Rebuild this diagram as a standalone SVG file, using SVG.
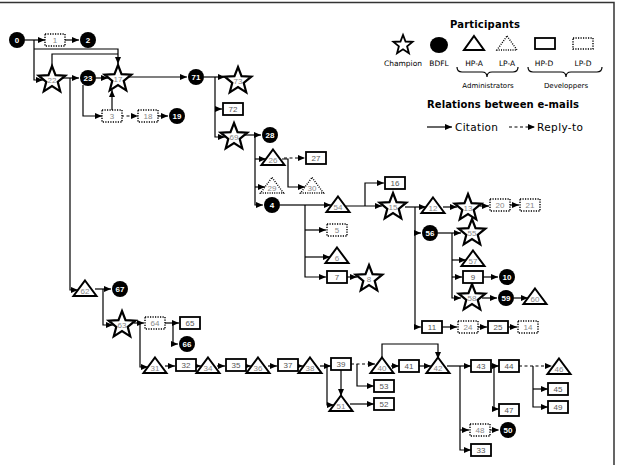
<svg xmlns="http://www.w3.org/2000/svg" width="621" height="465" viewBox="0 0 621 465">
<defs>
<marker id="ah" markerWidth="7" markerHeight="6" refX="7" refY="3" orient="auto" markerUnits="userSpaceOnUse"><path d="M0,0 L7,3 L0,6 Z" fill="#000"/></marker>
<path id="star" d="M0,-14 L3.53,-4.85 L13.31,-4.33 L5.71,1.85 L8.23,11.33 L0,6 L-8.23,11.33 L-5.71,1.85 L-13.31,-4.33 L-3.53,-4.85 Z"/>
<path id="tri" d="M0,-8.5 L11.5,7 L-11.5,7 Z"/>
<rect id="box" x="-10" y="-6" width="20" height="12"/>
</defs>
<style>
.s{fill:#fff;stroke:#000;stroke-width:2.2}
.t{fill:#fff;stroke:#000;stroke-width:2}
.td{fill:#fff;stroke:#000;stroke-width:1.4;stroke-dasharray:1 1.3}
.r{fill:#fff;stroke:#000;stroke-width:1.8}
.rd{fill:#fff;stroke:#000;stroke-width:1.4;stroke-dasharray:1.2 1.3}
.c{fill:#000}
.l{font-family:"Liberation Sans",Arial,sans-serif;font-size:8px;text-anchor:middle;fill:#555}
.lg{font-family:"Liberation Sans",Arial,sans-serif;font-size:8px;text-anchor:middle;fill:#888}
.lw{font-family:"Liberation Sans",Arial,sans-serif;font-size:8px;text-anchor:middle;fill:#fff;font-weight:bold}
.e{fill:none;stroke:#000;stroke-width:1.2;marker-end:url(#ah)}
.d{fill:none;stroke:#000;stroke-width:1.2;stroke-dasharray:3 2.5;marker-end:url(#ah)}
.p{fill:none;stroke:#000;stroke-width:1.2}
.h{font-family:"DejaVu Sans",sans-serif;font-weight:bold;font-size:10px;text-anchor:middle;fill:#000}
.k{font-family:"DejaVu Sans",sans-serif;font-size:7.5px;text-anchor:middle;fill:#000}
.q{font-family:"DejaVu Sans",sans-serif;font-size:10.5px;fill:#000}
</style>
<rect width="621" height="465" fill="#fff"/>
<path d="M0,2.5 H614 V465" fill="none" stroke="#333" stroke-width="1.5"/>

<!-- legend -->
<g id="legend">
<text class="h" x="485" y="28" textLength="70">Participants</text>
<use href="#star" class="s" transform="translate(403,45) scale(0.72)" style="stroke-width:2.5"/>
<ellipse cx="439" cy="45" rx="9" ry="8" fill="#000"/>
<path d="M474,36 L484,50 L464,50 Z" class="t"/>
<path d="M507,36 L517,50 L497,50 Z" class="td"/>
<rect x="535" y="38" width="20" height="11" class="r"/>
<rect x="573" y="38" width="20" height="11" class="rd"/>
<text class="k" x="403" y="66">Champion</text>
<text class="k" x="439" y="66">BDFL</text>
<text class="k" x="474" y="66">HP-A</text>
<text class="k" x="507" y="66">LP-A</text>
<text class="k" x="544" y="66">HP-D</text>
<text class="k" x="583" y="66">LP-D</text>
<path d="M457,67 Q457,72 462,72 L482,72 Q487,72 487,77 Q487,72 492,72 L513,72 Q518,72 518,67" class="p" stroke-width="1.5"/>
<path d="M528,67 Q528,72 533,72 L561,72 Q566,72 566,77 Q566,72 571,72 L597,72 Q602,72 602,67" class="p" stroke-width="1.5"/>
<text class="k" x="488" y="88" style="font-size:7px">Administrators</text>
<text class="k" x="566" y="88" style="font-size:7px">Developpers</text>
<text class="h" x="503" y="108" textLength="152">Relations between e-mails</text>
<path d="M427,127 H452" class="e"/>
<text class="q" x="455" y="131" textLength="43">Citation</text>
<path d="M509,127 H535" class="d"/>
<text class="q" x="537" y="131" textLength="46">Reply-to</text>
</g>

<!-- connectors -->
<g id="edges">
<path class="e" d="M25,40 H45"/>
<path class="e" d="M64,40 H79"/>
<path class="e" d="M34,40 V80 H43"/>
<path class="e" d="M34,49 H118 V64"/>
<path class="p" d="M52,67 V54 H118"/>
<path class="e" d="M62,78 H79"/>
<path class="e" d="M70,78 V290 H78"/>
<path class="e" d="M96,78 H108"/>
<path class="e" d="M83,85 V116 H102"/>
<path class="e" d="M112,110 V90"/>
<path class="d" d="M121,116 H138"/>
<path class="e" d="M157,116 H168"/>
<path class="e" d="M128,77 H187"/>
<path class="e" d="M204,77 H225"/>
<path class="e" d="M215,77 V137 H225"/>
<path class="e" d="M215,109 H222"/>
<path class="e" d="M243,135 H261"/>
<path class="e" d="M255,135 V205 H263"/>
<path class="e" d="M255,159 H266"/>
<path class="e" d="M255,187 H265"/>
<path class="d" d="M284,158 H305"/>
<path class="e" d="M282,159 H288 V187 H305"/>
<path class="p" d="M280,205 H305" stroke-width="2.4"/>
<path class="e" d="M305,205 H331"/>
<path class="e" d="M305,205 V277 H326"/>
<path class="e" d="M305,230 H326"/>
<path class="e" d="M305,257 H330"/>
<path class="e" d="M347,277 H357"/>
<path class="e" d="M346,206 H382"/>
<path class="e" d="M365,206 V183 H384"/>
<path class="e" d="M405,207 H426"/>
<path class="e" d="M415,207 V327 H421"/>
<path class="e" d="M415,233 H421"/>
<path class="e" d="M443,207 H457"/>
<path class="e" d="M480,206 H489"/>
<path class="e" d="M510,205 H519"/>
<path class="e" d="M438,233 H461"/>
<path class="e" d="M452,233 V298 H461"/>
<path class="e" d="M452,260 H466"/>
<path class="e" d="M452,277 H462"/>
<path class="e" d="M483,277 H498"/>
<path class="e" d="M482,298 H497"/>
<path class="e" d="M514,298 H528"/>
<path class="e" d="M442,327 H457"/>
<path class="e" d="M478,327 H487"/>
<path class="e" d="M508,327 H517"/>
<path class="e" d="M95,289 H111"/>
<path class="e" d="M103,289 V325 H113"/>
<path class="e" d="M134,323 H144"/>
<path class="e" d="M140,323 V367 H148"/>
<path class="e" d="M165,323 H179"/>
<path class="e" d="M173,323 V344 H178"/>
<path class="e" d="M165,366 H175"/>
<path class="e" d="M196,366 H201"/>
<path class="e" d="M217,366 H225"/>
<path class="e" d="M246,366 H251"/>
<path class="e" d="M268,366 H277"/>
<path class="e" d="M298,366 H303"/>
<path class="e" d="M320,366 H331"/>
<path class="e" d="M327,366 V405 H334"/>
<path class="e" d="M341,370 V396"/>
<path class="d" d="M351,364 H375"/>
<path class="e" d="M357,364 V386 H374"/>
<path class="e" d="M350,404 H374"/>
<path class="e" d="M391,366 H399"/>
<path class="e" d="M382,360 V344 H438 V359"/>
<path class="e" d="M419,366 H431"/>
<path class="e" d="M447,366 H471"/>
<path class="e" d="M460,366 V450 H471"/>
<path class="e" d="M460,430 H469"/>
<path class="d" d="M490,430 H499"/>
<path class="e" d="M491,366 H499"/>
<path class="e" d="M494,366 V409 H499"/>
<path class="d" d="M519,366 H552"/>
<path class="e" d="M533,366 V407 H548"/>
<path class="e" d="M533,389 H548"/>
</g>

<!-- BDFL nodes -->
<g id="n0"><circle class="c" cx="17" cy="40" r="8"/><text class="lw" x="17" y="43">0</text></g>
<g id="n2"><circle class="c" cx="88" cy="40" r="8"/><text class="lw" x="88" y="43">2</text></g>
<g id="n23"><circle class="c" cx="88" cy="78" r="8"/><text class="lw" x="88" y="81">23</text></g>
<g id="n19"><circle class="c" cx="177" cy="116" r="8"/><text class="lw" x="177" y="119">19</text></g>
<g id="n71"><circle class="c" cx="196" cy="77" r="8"/><text class="lw" x="196" y="80">71</text></g>
<g id="n28"><circle class="c" cx="270" cy="135" r="8"/><text class="lw" x="270" y="138">28</text></g>
<g id="n4"><circle class="c" cx="272" cy="205" r="8"/><text class="lw" x="272" y="208">4</text></g>
<g id="n56"><circle class="c" cx="430" cy="233" r="8"/><text class="lw" x="430" y="236">56</text></g>
<g id="n10"><circle class="c" cx="507" cy="277" r="8"/><text class="lw" x="507" y="280">10</text></g>
<g id="n59"><circle class="c" cx="506" cy="298" r="8"/><text class="lw" x="506" y="301">59</text></g>
<g id="n67"><circle class="c" cx="120" cy="289" r="8"/><text class="lw" x="120" y="292">67</text></g>
<g id="n66"><circle class="c" cx="187" cy="344" r="8"/><text class="lw" x="187" y="347">66</text></g>
<g id="n50"><circle class="c" cx="508" cy="430" r="8"/><text class="lw" x="508" y="433">50</text></g>

<!-- Champions -->
<g id="n22"><use href="#star" class="s" x="52" y="80"/><text class="lg" x="52" y="83">22</text></g>
<g id="n17"><use href="#star" class="s" x="118" y="79"/><text class="lg" x="118" y="82">17</text></g>
<g id="n73"><use href="#star" class="s" x="238" y="81"/><text class="lg" x="238" y="84">73</text></g>
<g id="n69"><use href="#star" class="s" x="234" y="137"/><text class="lg" x="234" y="140">69</text></g>
<g id="n15"><use href="#star" class="s" x="393" y="207"/><text class="lg" x="393" y="210">15</text></g>
<g id="n8"><use href="#star" class="s" x="369" y="279"/><text class="lg" x="369" y="282">8</text></g>
<g id="n13"><use href="#star" class="s" x="468" y="208"/><text class="lg" x="468" y="211">13</text></g>
<g id="n55"><use href="#star" class="s" x="472" y="233"/><text class="lg" x="472" y="236">55</text></g>
<g id="n58"><use href="#star" class="s" x="472" y="298"/><text class="lg" x="472" y="301">58</text></g>
<g id="n63"><use href="#star" class="s" x="122" y="325"/><text class="lg" x="122" y="328">63</text></g>

<!-- administrators -->
<g id="n62"><use href="#tri" class="t" x="85" y="289"/><text class="lg" x="85" y="294">62</text></g>
<g id="n26"><use href="#tri" class="t" x="273" y="158"/><text class="lg" x="273" y="163">26</text></g>
<g id="n29"><use href="#tri" class="td" x="272" y="186"/><text class="lg" x="272" y="191">29</text></g>
<g id="n30"><use href="#tri" class="td" x="312" y="186"/><text class="lg" x="312" y="191">30</text></g>
<g id="n54"><use href="#tri" class="t" x="338" y="205"/><text class="lg" x="338" y="210">54</text></g>
<g id="n6"><use href="#tri" class="t" x="337" y="256"/><text class="lg" x="337" y="261">6</text></g>
<g id="n12"><use href="#tri" class="t" x="433" y="206"/><text class="lg" x="433" y="211">12</text></g>
<g id="n57"><use href="#tri" class="t" x="473" y="259"/><text class="lg" x="473" y="264">57</text></g>
<g id="n60"><use href="#tri" class="t" x="535" y="297"/><text class="lg" x="535" y="302">60</text></g>
<g id="n31"><use href="#tri" class="t" x="155" y="366"/><text class="lg" x="155" y="371">31</text></g>
<g id="n34"><use href="#tri" class="t" x="208" y="366"/><text class="lg" x="208" y="371">34</text></g>
<g id="n36"><use href="#tri" class="t" x="258" y="366"/><text class="lg" x="258" y="371">36</text></g>
<g id="n38"><use href="#tri" class="t" x="310" y="366"/><text class="lg" x="310" y="371">38</text></g>
<g id="n51"><use href="#tri" class="t" x="341" y="404"/><text class="lg" x="341" y="409">51</text></g>
<g id="n40"><use href="#tri" class="t" x="382" y="366"/><text class="lg" x="382" y="371">40</text></g>
<g id="n42"><use href="#tri" class="t" x="438" y="366"/><text class="lg" x="438" y="371">42</text></g>
<g id="n46"><use href="#tri" class="t" x="559" y="367"/><text class="lg" x="559" y="372">46</text></g>

<!-- developers -->
<g id="n1"><use href="#box" class="rd" x="55" y="40"/><text class="lg" x="55" y="43">1</text></g>
<g id="n3"><use href="#box" class="rd" x="112" y="116"/><text class="lg" x="112" y="119">3</text></g>
<g id="n18"><use href="#box" class="rd" x="148" y="116"/><text class="lg" x="148" y="119">18</text></g>
<g id="n72"><use href="#box" class="r" x="233" y="109"/><text class="l" x="233" y="112">72</text></g>
<g id="n27"><use href="#box" class="r" x="316" y="158"/><text class="l" x="316" y="161">27</text></g>
<g id="n16"><use href="#box" class="r" x="395" y="183"/><text class="l" x="395" y="186">16</text></g>
<g id="n5"><use href="#box" class="rd" x="337" y="230"/><text class="lg" x="337" y="233">5</text></g>
<g id="n7"><use href="#box" class="r" x="337" y="277"/><text class="l" x="337" y="280">7</text></g>
<g id="n20"><use href="#box" class="rd" x="500" y="205"/><text class="lg" x="500" y="208">20</text></g>
<g id="n21"><use href="#box" class="rd" x="530" y="205"/><text class="lg" x="530" y="208">21</text></g>
<g id="n9"><use href="#box" class="r" x="473" y="277"/><text class="l" x="473" y="280">9</text></g>
<g id="n11"><use href="#box" class="r" x="432" y="327"/><text class="l" x="432" y="330">11</text></g>
<g id="n24"><use href="#box" class="rd" x="468" y="327"/><text class="lg" x="468" y="330">24</text></g>
<g id="n25"><use href="#box" class="r" x="498" y="327"/><text class="l" x="498" y="330">25</text></g>
<g id="n14"><use href="#box" class="rd" x="528" y="327"/><text class="lg" x="528" y="330">14</text></g>
<g id="n64"><use href="#box" class="rd" x="155" y="323"/><text class="lg" x="155" y="326">64</text></g>
<g id="n65"><use href="#box" class="r" x="190" y="323"/><text class="l" x="190" y="326">65</text></g>
<g id="n32"><use href="#box" class="r" x="186" y="365"/><text class="l" x="186" y="368">32</text></g>
<g id="n35"><use href="#box" class="r" x="236" y="365"/><text class="l" x="236" y="368">35</text></g>
<g id="n37"><use href="#box" class="r" x="288" y="365"/><text class="l" x="288" y="368">37</text></g>
<g id="n39"><use href="#box" class="r" x="341" y="364"/><text class="l" x="341" y="367">39</text></g>
<g id="n53"><use href="#box" class="r" x="384" y="386"/><text class="l" x="384" y="389">53</text></g>
<g id="n52"><use href="#box" class="r" x="384" y="404"/><text class="l" x="384" y="407">52</text></g>
<g id="n41"><use href="#box" class="r" x="409" y="366"/><text class="l" x="409" y="369">41</text></g>
<g id="n43"><use href="#box" class="r" x="481" y="366"/><text class="l" x="481" y="369">43</text></g>
<g id="n44"><use href="#box" class="r" x="509" y="366"/><text class="l" x="509" y="369">44</text></g>
<g id="n45"><use href="#box" class="r" x="558" y="389"/><text class="l" x="558" y="392">45</text></g>
<g id="n49"><use href="#box" class="r" x="558" y="407"/><text class="l" x="558" y="410">49</text></g>
<g id="n47"><use href="#box" class="r" x="509" y="410"/><text class="l" x="509" y="413">47</text></g>
<g id="n48"><use href="#box" class="rd" x="480" y="430"/><text class="lg" x="480" y="433">48</text></g>
<g id="n33"><use href="#box" class="r" x="481" y="450"/><text class="l" x="481" y="453">33</text></g>
</svg>
